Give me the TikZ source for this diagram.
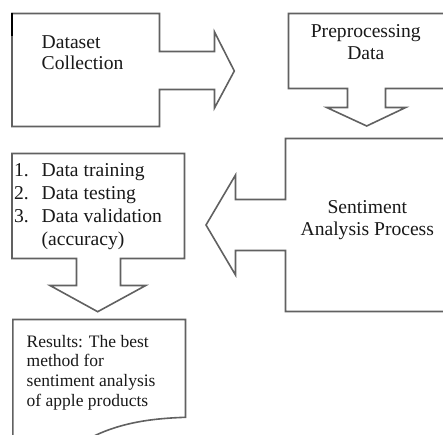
\documentclass[tikz,border=0pt]{standalone}
\usepackage{fontspec}
\setmainfont{Liberation Serif}
\tikzset{
  shapeline/.style={draw=black!62, line width=1.6bp, line join=miter},
  txt/.style={inner sep=0pt, outer sep=0pt, text=black!90},
}
\newcommand{\bigtxt}[1]{\fontsize{19.6bp}{#1}\selectfont}
\begin{document}
\begin{tikzpicture}[x=1bp,y=-1bp]
\useasboundingbox (0,0) rectangle (443,435);
\fill[white] (0,0) rectangle (443,435);
\begin{scope}
\clip (0,0) rectangle (443,435);
% Dataset Collection (right arrow callout)
\draw[shapeline] (12,13.5) -- (159.5,13.5) -- (159.5,51.5) -- (214.5,51.5) -- (214.5,32) -- (234.3,71)
  -- (214.5,108) -- (214.5,89.5) -- (159.5,89.5) -- (159.5,126.5) -- (12,126.5) -- cycle;
\draw[shapeline] (12,13.5) -- (12,126.5);
\draw[line width=2.4bp, black] (12,12.7) -- (12,36);
% Preprocessing Data (down arrow callout)
\draw[shapeline] (288.5,13.5) -- (452,13.5) -- (452,88.5) -- (385.5,88.5) -- (385.5,107.5) -- (405.7,107.5)
  -- (366.7,126) -- (326.7,107.5) -- (347.5,107.5) -- (347.5,88.5) -- (288.5,88.5) -- cycle;
% Sentiment Analysis Process (left arrow callout)
\draw[shapeline] (452,138.5) -- (285.5,138.5) -- (285.5,199.5) -- (235.5,199.5) -- (235.5,175) -- (206,225)
  -- (235.5,275) -- (235.5,250.5) -- (285.5,250.5) -- (285.5,311.5) -- (452,311.5);
% Data list (down arrow callout)
\draw[shapeline] (12,153.5) -- (184.5,153.5) -- (184.5,258.5) -- (120.5,258.5) -- (120.5,285.5) -- (145.7,285.5)
  -- (97.7,311.7) -- (50,285.5) -- (76.5,285.5) -- (76.5,258.5) -- (12,258.5) -- cycle;
% Results (document shape)
\draw[shapeline] (12.8,445) -- (12.8,319.5) -- (185.5,319.5) -- (185.5,417.3)
  .. controls (150,418.5) and (112,423) .. (78,445);
\end{scope}
% texts
\node[txt, anchor=base west] (ds) at (41.7,48.3)
  {\bigtxt{21bp}\begin{tabular}[t]{@{}l@{}}Dataset\\Collection\end{tabular}};
\node[txt, anchor=base] (pp) at (365.8,37.7)
  {\bigtxt{22.3bp}\begin{tabular}[t]{@{}c@{}}Preprocessing\\Data\end{tabular}};
\node[txt, anchor=base] (sa) at (367.3,213.3)
  {\bigtxt{22.4bp}\begin{tabular}[t]{@{}c@{}}Sentiment\\Analysis Process\end{tabular}};
\node[txt, anchor=base west] (dl) at (14,176.7)
  {\bigtxt{22.8bp}\begin{tabular}[t]{@{}l@{}}\makebox[27.7bp][l]{1.}Data training\\
   \makebox[27.7bp][l]{2.}Data testing\\
   \makebox[27.7bp][l]{3.}Data validation\\
   \makebox[27.7bp][l]{}(accuracy)\end{tabular}};
\node[txt, anchor=base west] (rs) at (26.7,347)
  {\fontsize{17.5bp}{19.8bp}\selectfont\begin{tabular}[t]{@{}l@{}}Results: The best\\method for\\sentiment analysis\\of apple products\end{tabular}};
\end{tikzpicture}
\end{document}
